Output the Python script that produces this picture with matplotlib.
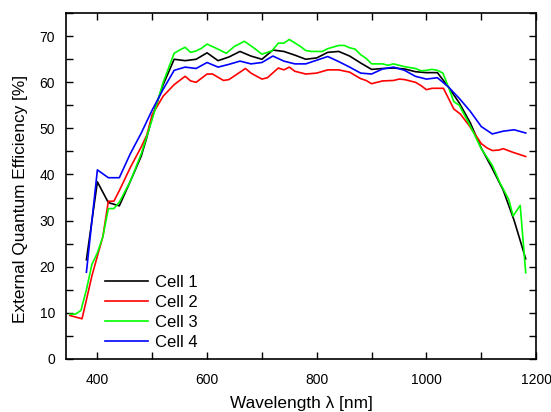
import numpy as np
import matplotlib
matplotlib.use('Agg')
import matplotlib.pyplot as plt
from matplotlib.ticker import MultipleLocator

plt.rcParams['font.family'] = ['Liberation Sans', 'DejaVu Sans']

# Cell 1 (black)
wl1 = [380, 400, 420, 440, 460, 480, 490, 500, 520, 540, 560, 580, 600, 620, 640, 660, 680,
       700, 720, 740, 760, 780, 800, 820, 840, 860, 880, 900, 920, 940, 960, 980, 1000,
       1020, 1040, 1060, 1080, 1100, 1120, 1140, 1160, 1181]
eqe1 = [21.5, 38.4, 33.9, 33.2, 38.5, 44.0, 48.0, 52.5, 59.5, 65.0, 64.7, 65.0, 66.4, 64.7, 65.5,
        66.7, 65.7, 65.0, 67.0, 66.7, 65.9, 65.0, 65.3, 66.5, 66.7, 65.7, 64.2, 62.8, 63.0,
        63.1, 62.9, 62.3, 62.1, 62.1, 59.0, 55.5, 51.2, 45.7, 41.3, 36.6, 30.0, 21.7]

# Cell 2 (red)
wl2 = [350, 372, 380, 390, 400, 410, 420, 430, 440, 460, 480, 490, 500, 520, 540, 560, 570,
       580, 600, 610, 630, 640, 660, 670, 680, 700, 710, 730, 740, 750, 760, 780, 800, 820,
       840, 860, 880, 890, 900, 920, 940, 950, 960, 980, 990, 1000, 1010, 1031, 1050, 1062,
       1078, 1100, 1110, 1120, 1132, 1140, 1158, 1181]
eqe2 = [9.4, 8.7, 12.8, 18.0, 22.3, 26.5, 34.2, 34.2, 36.5, 41.5, 46.0, 48.5, 53.0, 57.0, 59.5,
        61.3, 60.3, 60.0, 61.8, 61.8, 60.4, 60.6, 62.2, 63.0, 62.0, 60.7, 61.0, 63.1, 62.7,
        63.3, 62.4, 61.8, 62.0, 62.7, 62.7, 62.2, 60.8, 60.4, 59.7, 60.3, 60.4, 60.7, 60.6,
        60.0, 59.3, 58.4, 58.7, 58.7, 54.2, 53.1, 50.6, 46.7, 45.8, 45.2, 45.3, 45.6, 44.8, 43.9]

# Cell 3 (green)
wl3 = [350, 360, 370, 380, 390, 400, 410, 420, 430, 440, 460, 480, 500, 520, 540, 550, 560,
       570, 580, 590, 600, 620, 635, 650, 668, 685, 700, 718, 730, 740, 750, 770, 780, 790,
       800, 810, 820, 840, 850, 860, 870, 880, 890, 900, 920, 930, 940, 960, 980, 990, 1000,
       1010, 1020, 1030, 1040, 1050, 1060, 1080, 1100, 1120, 1134, 1150, 1158, 1171, 1181]
eqe3 = [9.7, 9.7, 10.5, 15.0, 20.5, 23.0, 26.5, 32.6, 32.6, 34.0, 38.5, 44.5, 52.0, 60.0, 66.3,
        67.0, 67.6, 66.5, 66.8, 67.4, 68.3, 67.2, 66.3, 67.8, 68.9, 67.5, 66.1, 66.8, 68.5,
        68.5, 69.3, 67.8, 66.9, 66.7, 66.7, 66.7, 67.3, 68.0, 68.0, 67.5, 67.2, 66.0, 65.2,
        64.0, 64.0, 63.7, 64.0, 63.4, 63.0, 62.5, 62.6, 62.8, 62.6, 62.0, 59.0, 55.8, 55.0,
        50.5, 45.6, 42.0, 38.2, 34.6, 31.0, 33.3, 18.7]

# Cell 4 (blue)
wl4 = [380, 400, 420, 440, 460, 480, 500, 520, 540, 560, 580, 600, 620, 640, 660, 680, 700,
       720, 740, 760, 780, 800, 820, 840, 860, 880, 900, 920, 940, 960, 980, 1000, 1020,
       1040, 1060, 1080, 1100, 1120, 1140, 1160, 1181]
eqe4 = [18.8, 41.0, 39.3, 39.3, 44.5, 49.0, 54.0, 58.5, 62.6, 63.3, 63.0, 64.3, 63.3, 63.9,
        64.6, 64.0, 64.3, 65.7, 64.6, 64.0, 64.0, 64.8, 65.6, 64.5, 63.3, 62.0, 61.8, 62.9,
        63.3, 62.6, 61.3, 60.7, 61.0, 59.0, 56.5, 53.7, 50.4, 48.8, 49.4, 49.7, 49.0]

fig = plt.figure(figsize=(5.51, 4.12), dpi=100)
ax = fig.add_axes([0.12, 0.129, 0.853, 0.839])

ax.plot(wl1, eqe1, color='black', lw=1.2, label='Cell 1')
ax.plot(wl2, eqe2, color='#ff0000', lw=1.2, label='Cell 2')
ax.plot(wl3, eqe3, color='#00ff00', lw=1.2, label='Cell 3')
ax.plot(wl4, eqe4, color='#0000ff', lw=1.2, label='Cell 4')

ax.set_xlim(343, 1200)
ax.set_ylim(0, 75)
ax.xaxis.set_major_locator(MultipleLocator(200))
ax.xaxis.set_minor_locator(MultipleLocator(100))
ax.yaxis.set_major_locator(MultipleLocator(10))
ax.yaxis.set_minor_locator(MultipleLocator(5))
ax.tick_params(which='both', direction='in', top=True, right=True, width=1.0, labelsize=10,
               length=5)
ax.tick_params(axis='x', which='both', pad=10)
ax.tick_params(axis='y', which='both', pad=8)
for s in ax.spines.values():
    s.set_linewidth(1.2)

ax.set_xlabel('Wavelength λ [nm]', fontsize=12.4, labelpad=7)
ax.set_ylabel('External Quantum Efficiency [%]', fontsize=12.4)
ax.yaxis.set_label_coords(-0.081, 0.462)

ax.legend(loc='lower left', bbox_to_anchor=(0.083, 0.025), frameon=False, fontsize=12,
          handlelength=2.6, handletextpad=0.4, labelspacing=0.3, borderpad=0, borderaxespad=0)

fig.savefig('out.png', dpi=100)
